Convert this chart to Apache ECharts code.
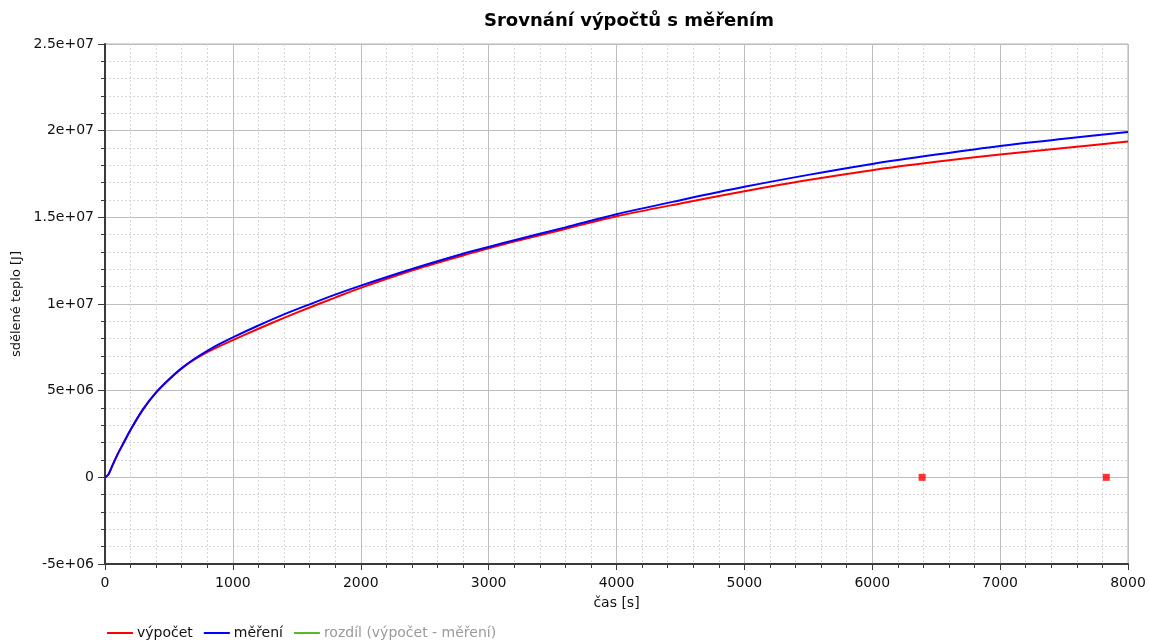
<!DOCTYPE html>
<html>
<head>
<meta charset="utf-8">
<title>Srovnání výpočtů s měřením</title>
<script src="https://cdn.jsdelivr.net/npm/echarts@6/dist/echarts.min.js"></script>
<style>
  html, body { margin: 0; padding: 0; background: #fff; }
  #chart { width: 1149px; height: 644px; }
</style>
</head>
<body>
<div id="chart"></div>
<script>
// Time samples [s]
const casS = [0, 25, 50, 100, 150, 200, 300, 400, 500, 600, 700, 800, 900, 1000,
  1200, 1400, 1600, 1800, 2000, 2400, 2800, 3000, 3200, 3600, 4000, 4500,
  5000, 5500, 6000, 6500, 7000, 7500, 8000];

// Computed transferred heat [J]
const vypocet = [0, 0.15e6, 0.55e6, 1.35e6, 2.05e6, 2.75e6, 3.95e6, 4.9e6, 5.65e6, 6.28e6, 6.8e6, 7.22e6, 7.58e6, 7.92e6,
  8.57e6, 9.2e6, 9.8e6, 10.37e6, 10.93e6, 11.93e6, 12.8e6, 13.21e6, 13.6e6, 14.33e6, 15.06e6, 15.8e6,
  16.5e6, 17.15e6, 17.72e6, 18.2e6, 18.63e6, 19.0e6, 19.37e6];

// Measured transferred heat [J]
const mereni = [0, 0.15e6, 0.55e6, 1.35e6, 2.05e6, 2.75e6, 3.95e6, 4.9e6, 5.65e6, 6.3e6, 6.84e6, 7.3e6, 7.71e6, 8.08e6,
  8.76e6, 9.4e6, 9.98e6, 10.54e6, 11.06e6, 12.02e6, 12.9e6, 13.29e6, 13.68e6, 14.42e6, 15.18e6, 15.99e6,
  16.76e6, 17.45e6, 18.08e6, 18.62e6, 19.12e6, 19.53e6, 19.92e6];

// Difference series (no samples plotted)
const rozdil = [];

// Isolated markers on the zero line
const bodyX = [6390, 7830];
const bodyY = [0, 0];

// Axis ticks
const xTicks = [0, 1000, 2000, 3000, 4000, 5000, 6000, 7000, 8000];
const yTicks = [-5e6, 0, 5e6, 1e7, 1.5e7, 2e7, 2.5e7];
const yTickLabels = ['-5e+06', '0', '5e+06', '1e+07', '1.5e+07', '2e+07', '2.5e+07'];

const FONT = '"DejaVu Sans", Verdana, sans-serif';

const pairs = (xs, ys) => xs.map((x, i) => [x, ys[i]]);

const chart = echarts.init(document.getElementById('chart'), null, { renderer: 'canvas' });

chart.setOption({
  animation: false,
  backgroundColor: '#ffffff',
  title: {
    text: 'Srovnání výpočtů s měřením',
    left: 624,
    top: 7,
    textAlign: 'center',
    textStyle: { fontFamily: FONT, fontSize: 18, fontWeight: 'bold', color: '#000' }
  },
  grid: {
    left: 105, right: 21, top: 44, bottom: 80,
    show: true, borderColor: '#b0b0b0', borderWidth: 1, backgroundColor: 'transparent'
  },
  legend: {
    left: 107,
    top: 626,
    padding: 0,
    icon: 'rect',
    itemWidth: 26,
    itemHeight: 2,
    itemGap: 11,
    textStyle: { fontFamily: FONT, fontSize: 14, color: '#111', padding: [0, 0, 0, -1] },
    data: [
      { name: 'výpočet' },
      { name: 'měření' },
      { name: 'rozdíl (výpočet - měření)', textStyle: { color: '#9a9a9a' } }
    ]
  },
  xAxis: {
    type: 'value',
    min: 0, max: 8000, interval: 1000,
    name: 'čas [s]',
    nameLocation: 'middle',
    nameGap: 32,
    nameTextStyle: { fontFamily: FONT, fontSize: 14, color: '#111' },
    axisLine: { show: true, onZero: false, lineStyle: { color: '#3a3a3a', width: 2 } },
    axisTick: { show: true, length: 6, lineStyle: { color: '#3a3a3a' } },
    minorTick: { show: true, splitNumber: 5, length: 4, lineStyle: { color: '#3a3a3a' } },
    axisLabel: {
      fontFamily: FONT, fontSize: 14, color: '#111', margin: 12,
      formatter: v => String(xTicks[xTicks.indexOf(v)])
    },
    splitLine: { show: true, lineStyle: { color: '#bdbdbd', width: 1 } },
    minorSplitLine: { show: true, lineStyle: { color: '#d6d6d6', width: 1, type: [2, 2] } }
  },
  yAxis: {
    type: 'value',
    min: -5e6, max: 2.5e7, interval: 5e6,
    name: 'sdělené teplo [J]',
    nameLocation: 'middle',
    nameGap: 74,
    nameRotate: 90,
    nameTextStyle: { fontFamily: FONT, fontSize: 13, color: '#111' },
    axisLine: { show: true, onZero: false, lineStyle: { color: '#3a3a3a', width: 2 } },
    axisTick: { show: true, length: 7, lineStyle: { color: '#3a3a3a' } },
    minorTick: { show: true, splitNumber: 5, length: 4, lineStyle: { color: '#3a3a3a' } },
    axisLabel: {
      fontFamily: FONT, fontSize: 14, color: '#111', margin: 11,
      formatter: v => yTickLabels[yTicks.indexOf(v)]
    },
    splitLine: { show: true, lineStyle: { color: '#bdbdbd', width: 1 } },
    minorSplitLine: { show: true, lineStyle: { color: '#d6d6d6', width: 1, type: [2, 2] } }
  },
  series: [
    {
      name: 'výpočet',
      type: 'line',
      data: pairs(casS, vypocet),
      showSymbol: false,
      smooth: 0.3,
      color: '#ff0000',
      lineStyle: { color: '#ff0000', width: 2 },
      z: 3
    },
    {
      name: 'měření',
      type: 'line',
      data: pairs(casS, mereni),
      showSymbol: false,
      smooth: 0.3,
      color: '#0000ff',
      lineStyle: { color: '#0000ff', width: 2 },
      z: 4
    },
    {
      name: 'rozdíl (výpočet - měření)',
      type: 'line',
      data: rozdil,
      showSymbol: false,
      color: '#5cb82a',
      lineStyle: { color: '#5cb82a', width: 2 }
    },
    {
      name: 'body',
      type: 'scatter',
      data: pairs(bodyX, bodyY),
      symbol: 'rect',
      symbolSize: 7,
      itemStyle: { color: '#ff0000' },
      z: 5
    }
  ]
});
</script>
</body>
</html>
